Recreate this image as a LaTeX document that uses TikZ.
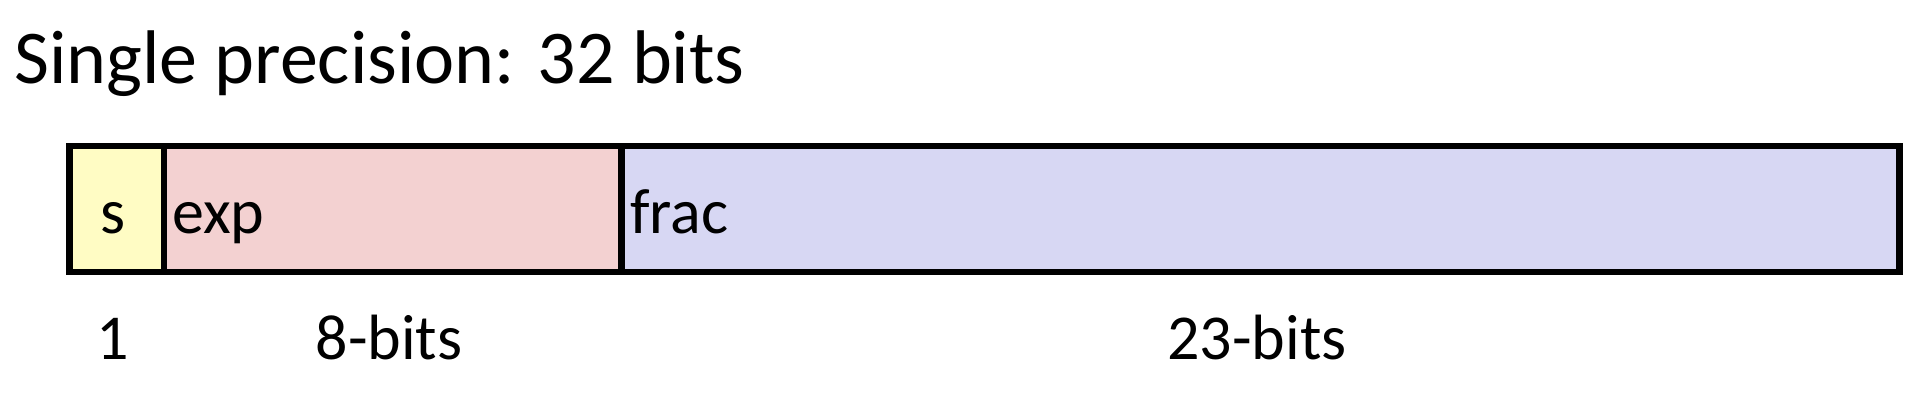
\documentclass[tikz,border=0pt]{standalone}
\usepackage{fontspec}
\setmainfont{Carlito}
\definecolor{sfill}{HTML}{FFFCC4}
\definecolor{efill}{HTML}{F3D1D1}
\definecolor{ffill}{HTML}{D7D7F3}
\tikzset{
  field/.style={draw=black, line width=5pt, inner sep=0pt, minimum height=94.5pt, anchor=west},
  lab/.style={inner sep=0pt, font=\fontsize{48pt}{56pt}\selectfont},
  ttl/.style={inner sep=0pt, font=\fontsize{57pt}{66pt}\selectfont}
}
\begin{document}
\begin{tikzpicture}[x=0.75pt,y=-0.75pt]
\useasboundingbox[fill=white] (0,0) rectangle (1928,416);
\node[ttl, anchor=base west] (title) at (14,84) {Single precision: 32 bits};
\node[field, fill=ffill, minimum width=958.5pt] (f) at (618,209) {};
\node[field, fill=efill, minimum width=343.125pt] (e) at (160.5,209) {};
\node[field, fill=sfill, minimum width=70.875pt] (s) at (66,209) {};
\node[lab, anchor=base] (sl) at (113,234) {s};
\node[lab, anchor=base west] (el) at (172,234) {exp};
\node[lab, anchor=base west] (fl) at (630,234) {frac};
\node[lab, anchor=base] (b1) at (113,360) {1};
\node[lab, anchor=base] (b8) at (389,360) {8-bits};
\node[lab, anchor=base] (b23) at (1257,360) {23-bits};
\end{tikzpicture}
\end{document}
